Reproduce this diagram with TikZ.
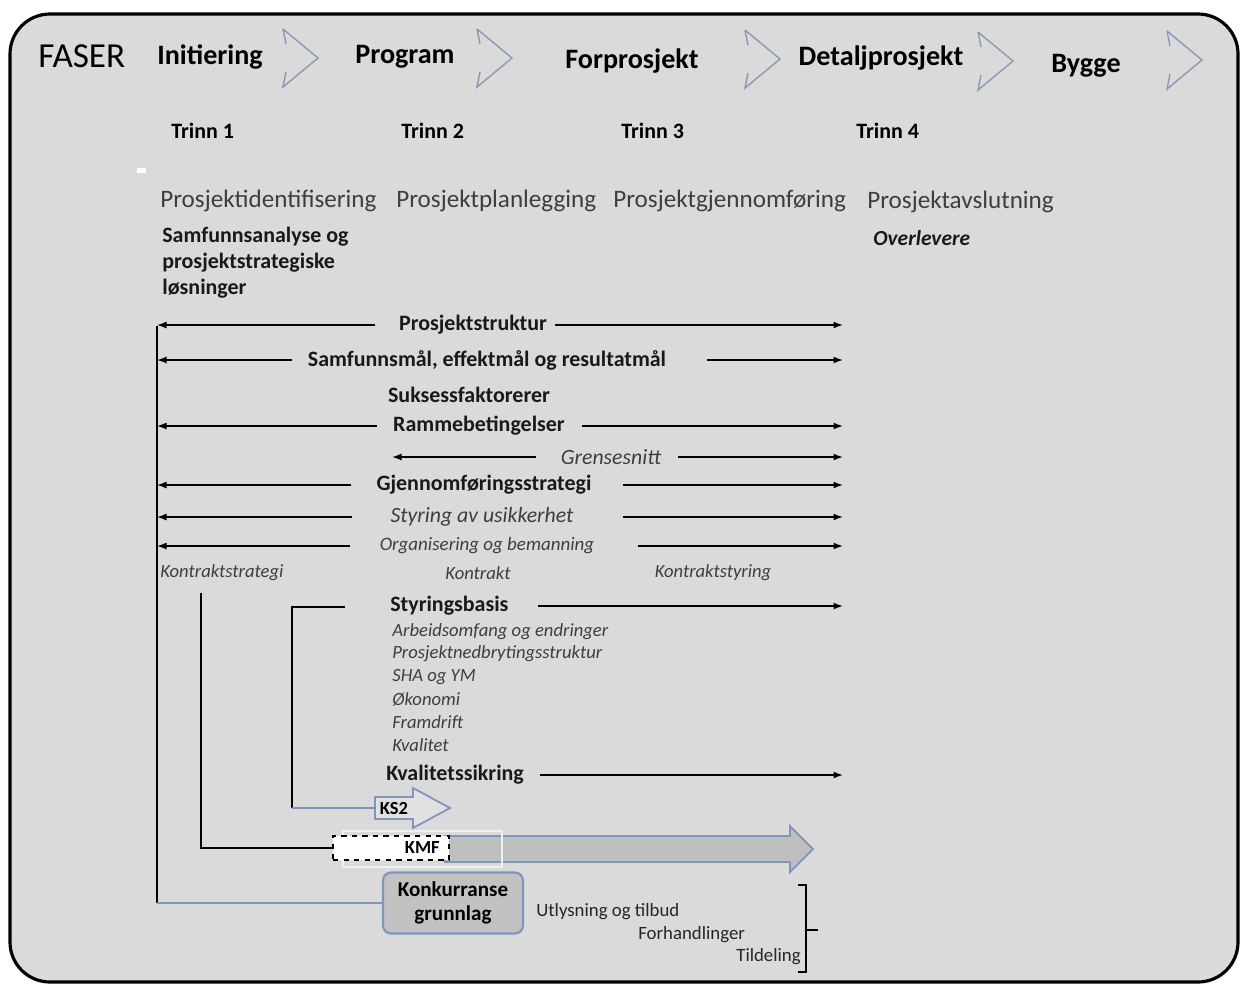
\documentclass[tikz,border=0pt]{standalone}
\usepackage{fontspec}
\setmainfont{Carlito}
\usepackage{tikz}
\usetikzlibrary{arrows.meta}
\definecolor{bggray}{RGB}{218,218,218}
\definecolor{txtgray}{RGB}{62,62,62}
\definecolor{chevblue}{RGB}{138,152,182}
\definecolor{boxblue}{RGB}{128,148,188}
\definecolor{boxgray}{RGB}{194,194,194}
\definecolor{arrowgray}{RGB}{190,190,190}
\def\chevron(#1,#2){\draw[chev] (#1,#2) ++(0,-29) -- ++(35,29) -- ++(-35,29) -- ++(3,-15) (#1,#2) ++(0,-29) -- ++(3,15);}

\begin{document}
\begin{tikzpicture}[x=0.02cm, y=-0.02cm,
		chev/.style={draw=chevblue, line width=0.8pt},
		arr/.style={-{Latex[length=1.9mm,width=1.4mm]}, line width=0.8pt},
		fase/.style={inner sep=0, font=\fontsize{16}{19}\selectfont\bfseries},
		trinn/.style={inner sep=0, anchor=west, font=\fontsize{12.5}{15}\selectfont\bfseries},
		steg/.style={inner sep=0, anchor=west, text=txtgray, font=\fontsize{14.3}{17}\selectfont},
		lbl/.style={inner sep=0, text=black!90, font=\fontsize{12.5}{15}\selectfont\bfseries},
		ilbl/.style={inner sep=0, text=txtgray, font=\fontsize{12.4}{15}\selectfont\itshape},
		slbl/.style={inner sep=0, text=txtgray, font=\fontsize{10.6}{12.6}\selectfont\itshape},
		ulbl/.style={inner sep=0, anchor=west, text=black!85, font=\fontsize{10.7}{13}\selectfont},
		bluel/.style={draw=boxblue, line width=1pt}]
		%%%%% START %%%%%
		
		\useasboundingbox (0,0) rectangle (1243,985);
		\draw[line width=1.8pt, fill=bggray, rounded corners=0.8cm] (10,14) rectangle (1238,982);
		
		\node[anchor=west, inner sep=0, font=\fontsize{20}{24}\selectfont] (faser) at (38,56) {FASER};
		\node[fase] (init) at (210,57) {Initiering};
		\node[fase] (prog) at (405,57) {Program};
		\node[fase] (forp) at (632,61) {Forprosjekt};
		\node[fase] (detp) at (881,58) {Detaljprosjekt};
		\node[fase] (bygg) at (1086,66) {Bygge};
		\chevron(283,58)
		\chevron(477,58)
		\chevron(745,59)
		\chevron(978,61)
		\chevron(1167,60)
		
		\node[trinn] (t1) at (171,131) {Trinn 1};
		\node[trinn] (t2) at (401,131) {Trinn 2};
		\node[trinn] (t3) at (621,131) {Trinn 3};
		\node[trinn] (t4) at (856,131) {Trinn 4};
		\fill[white] (137,168) rectangle (146,173);
		
		\node[steg] (s1) at (160,201) {Prosjektidentifisering};
		\node[steg] (s2) at (396,201) {Prosjektplanlegging};
		\node[steg] (s3) at (613,201) {Prosjektgjennomføring};
		\node[steg] (s4) at (867,202) {Prosjektavslutning};
		\node[lbl, anchor=north west, align=left, font=\fontsize{12.5}{14.8}\selectfont\bfseries] (sana) at (162,227) {Samfunnsanalyse og\\prosjektstrategiske\\løsninger};
		\node[lbl, anchor=west, font=\fontsize{12.2}{15}\selectfont\bfseries\itshape] (ovl) at (873,238) {Overlevere};
		
		% venstre linje
		\coordinate (spine) at (157,326);
		\coordinate (rend) at (843,326);
		\draw[line width=0.8pt] (spine) -- (157,903);
		
		\node[lbl] (pstr) at (473,325) {Prosjektstruktur};
		\draw[arr] ([xshift=-0.48cm]pstr.west) -- (pstr.west -| spine);
		\draw[arr] ([xshift=0.16cm]pstr.east) -- (pstr.east -| rend);
		\node[lbl] (smal) at (487,360) {Samfunnsmål, effektmål og resultatmål};
		\draw[arr] ([xshift=-0.32cm]smal.west) -- (smal.west -| spine);
		\draw[arr] ([xshift=0.82cm]smal.east) -- (smal.east -| rend);
		\node[lbl] (suks) at (469,395) {Suksessfaktorerer};
		\node[lbl] (ramm) at (479,426) {Rammebetingelser};
		\draw[arr] ([xshift=-0.32cm]ramm.west) -- (ramm.west -| spine);
		\draw[arr] ([xshift=0.34cm]ramm.east) -- (ramm.east -| rend);
		\coordinate (glft) at (392,457);
		\node[ilbl] (gren) at (611,457) {Grensesnitt};
		\draw[arr] ([xshift=-0.5cm]gren.west) -- (glft);
		\draw[arr] ([xshift=0.34cm]gren.east) -- (gren.east -| rend);
		\node[lbl] (gjen) at (484,485) {Gjennomføringsstrategi};
		\draw[arr] ([xshift=-0.5cm]gjen.west) -- (gjen.west -| spine);
		\draw[arr] ([xshift=0.62cm]gjen.east) -- (gjen.east -| rend);
		\node[ilbl] (styr) at (482,517) {Styring av usikkerhet};
		\draw[arr] ([xshift=-0.76cm]styr.west) -- (styr.west -| spine);
		\draw[arr] ([xshift=0.98cm]styr.east) -- (styr.east -| rend);
		\node[ilbl, font=\fontsize{10.8}{13}\selectfont\itshape] (orgb) at (487,546) {Organisering og bemanning};
		\draw[arr] ([xshift=-0.58cm]orgb.west) -- (orgb.west -| spine);
		\draw[arr] ([xshift=0.86cm]orgb.east) -- (orgb.east -| rend);
		
		\node[slbl, anchor=west] (kstr) at (160,573) {Kontraktstrategi};
		\node[slbl] (kont) at (478,573) {Kontrakt};
		\node[slbl] (ksty) at (713,573) {Kontraktstyring};
		
		% styringsbasis
		\node[lbl, anchor=west] (stb) at (390,606) {Styringsbasis};
		\draw[arr] ([xshift=0.58cm]stb.east) -- (stb.east -| rend);
		\node[slbl, anchor=west] (l1) at (392,632) {Arbeidsomfang og endringer};
		\node[slbl, anchor=west] (l2) at (392,654) {Prosjektnedbrytingsstruktur};
		\node[slbl, anchor=west] (l3) at (392,677) {SHA og YM};
		\node[slbl, anchor=west] (l4) at (392,699) {Økonomi};
		\node[slbl, anchor=west] (l5) at (392,722) {Framdrift};
		\node[slbl, anchor=west] (l6) at (392,745) {Kvalitet};
		\node[lbl, anchor=west] (kvs) at (386,775) {Kvalitetssikring};
		\draw[arr] ([xshift=0.32cm]kvs.east) -- (kvs.east -| rend);
		
		% KS2
		\draw[bluel, fill=bggray!80!white] (375,797) -- (413,797) -- (413,788) -- (450,808) -- (413,828) -- (413,819) -- (375,819) -- cycle;
		\node[inner sep=0, minimum width=0.76cm, font=\fontsize{10.5}{12}\selectfont\bfseries] (ks2) at (394,808) {KS2};
		\coordinate (sbtop) at (345,607);
		\draw[line width=0.8pt] (sbtop) -- (292,607) -- (292,808);
		\draw[bluel] (292,808) -- (ks2.west);
		
		% KMF
		\draw[bluel, fill=arrowgray] (445,836) -- (790,836) -- (790,826) -- (813,849) -- (790,872) -- (790,862) -- (445,862) -- cycle;
		\draw[white!60!bggray, line width=1pt] (343,831) rectangle (502,867);
		\node[draw, dashed, fill=white, line width=0.9pt, minimum width=2.32cm, minimum height=0.48cm, inner sep=0] (kmf) at (391,848) {};
		\node[anchor=east, inner sep=0, font=\fontsize{10.5}{12}\selectfont\bfseries] (kmftx) at (440,847) {KMF};
		\coordinate (kspine) at (201,593);
		\draw[line width=0.8pt] (kspine) -- (201,848) -- (kmf.west);
		
		% konkurranse
		\node[draw=boxblue, fill=boxgray, line width=1.2pt, rounded corners=0.16cm, minimum width=2.8cm, minimum height=1.22cm, inner sep=0, align=center, font=\fontsize{12}{13.6}\selectfont\bfseries] (konk) at (453,903) {Konkurranse\\grunnlag};
		\draw[bluel] (157,903) -- (konk.west);
		
		\node[ulbl] (utl) at (536,912) {Utlysning og tilbud};
		\node[ulbl] (forh) at (638,935) {Forhandlinger};
		\node[ulbl] (tild) at (736,957) {Tildeling};
		\draw[line width=0.8pt] (798,885) -- (806,885) -- (806,972) -- (798,972) (806,930) -- (818,930);
		
		%%%%% END %%%%%
	\end{tikzpicture}
\end{document}
